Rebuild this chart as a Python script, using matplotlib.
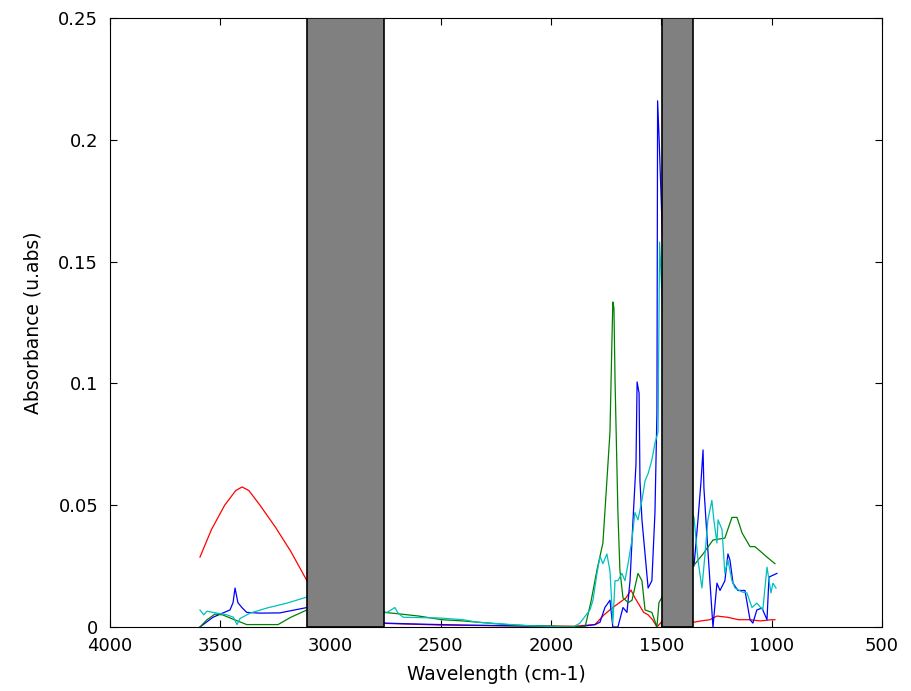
import matplotlib.pyplot as plt
from matplotlib.patches import Rectangle

plt.rcParams['font.family'] = ['DejaVu Sans']

# spectra (wavenumber, absorbance)
red_x = [3592, 3540, 3480, 3430, 3401, 3370, 3320, 3250, 3180, 3107, 3000, 2850, 2758,
         2500, 2200, 1900, 1801, 1760, 1720, 1690, 1660, 1638, 1620, 1600, 1580, 1560, 1540, 1520,
         1500, 1420, 1352, 1320, 1280, 1248, 1200, 1150, 1100, 1050, 1000, 985]
red_y = [0.0287, 0.040, 0.050, 0.0560, 0.0575, 0.0560, 0.0500, 0.0410, 0.0310, 0.0190, 0.010, 0.003, 0.0015,
         0.0008, 0.0005, 0.0003, 0.0010, 0.0050, 0.0080, 0.0100, 0.0120, 0.0152, 0.0120, 0.0090, 0.0060, 0.0050, 0.0030, 0.0,
         0.002, 0.002, 0.002, 0.0025, 0.003, 0.0045, 0.0040, 0.0030, 0.0030, 0.0025, 0.003, 0.003]

blue_x = [3592, 3533, 3456, 3442, 3433, 3420, 3402, 3380, 3320, 3230, 3107, 3000, 2850, 2758,
          2600, 2400, 2100, 1883, 1800, 1778, 1756, 1733, 1720, 1697, 1674, 1656, 1642, 1629, 1615,
          1610, 1601, 1597, 1588, 1574, 1560, 1543, 1529, 1520, 1517, 1510, 1480, 1420, 1380,
          1352, 1334, 1320, 1311, 1307, 1293, 1280, 1266, 1248, 1234, 1212, 1198, 1189, 1175, 1153,
          1121, 1098, 1085, 1067, 1044, 1021, 1012, 976]
blue_y = [0.0, 0.004, 0.007, 0.010, 0.016, 0.010, 0.008, 0.006, 0.0057, 0.0058, 0.008, 0.006, 0.003, 0.0016,
          0.0012, 0.0008, 0.0004, 0.0, 0.001, 0.002, 0.008, 0.011, 0.0, 0.0, 0.008, 0.006, 0.019, 0.043, 0.067,
          0.1006, 0.096, 0.060, 0.044, 0.030, 0.016, 0.019, 0.047, 0.088, 0.216, 0.20, 0.12, 0.06, 0.035,
          0.025, 0.044, 0.060, 0.0727, 0.057, 0.037, 0.019, 0.0, 0.018, 0.015, 0.019, 0.030, 0.0275, 0.018, 0.015,
          0.015, 0.003, 0.0016, 0.007, 0.0078, 0.003, 0.0205, 0.022]

green_x = [3592, 3560, 3524, 3490, 3450, 3380, 3300, 3238, 3180, 3107, 3000, 2850, 2758,
           2700, 2600, 2495, 2400, 2336, 2200, 2096, 1900, 1846, 1820, 1792, 1765, 1747, 1733, 1724,
           1720, 1715, 1710, 1697, 1688, 1674, 1650, 1633, 1606, 1588, 1574, 1543, 1520, 1511, 1480,
           1420, 1380, 1352, 1311, 1266, 1212, 1180, 1157, 1134, 1098, 1076, 1050, 1021, 985]
green_y = [0.0, 0.003, 0.0053, 0.0050, 0.0035, 0.001, 0.001, 0.001, 0.004, 0.007, 0.008, 0.007, 0.006,
           0.0055, 0.0045, 0.003, 0.0025, 0.002, 0.001, 0.0005, 0.0002, 0.0, 0.010, 0.0234, 0.0345, 0.060, 0.080, 0.118,
           0.1334, 0.131, 0.101, 0.047, 0.0234, 0.012, 0.010, 0.011, 0.022, 0.019, 0.007, 0.006, 0.0, 0.010, 0.015,
           0.020, 0.023, 0.0254, 0.030, 0.0357, 0.0365, 0.045, 0.045, 0.0386, 0.033, 0.033, 0.031, 0.0287, 0.026]

cyan_x = [3592, 3575, 3560, 3533, 3470, 3440, 3424, 3410, 3365, 3288, 3198, 3107, 3000, 2850,
          2744, 2708, 2694, 2670, 2504, 2400, 2336, 2263, 2096, 1900, 1869, 1824, 1810, 1792, 1778,
          1765, 1747, 1733, 1720, 1710, 1697, 1679, 1665, 1651, 1633, 1620, 1606, 1588, 1574, 1560,
          1543, 1529, 1515, 1508, 1480, 1420, 1380, 1352, 1334, 1316, 1302, 1289, 1271, 1262, 1248, 1243,
          1225, 1212, 1198, 1180, 1166, 1134, 1112, 1089, 1067, 1040, 1021, 1003, 994, 980]
cyan_y = [0.007, 0.005, 0.0065, 0.006, 0.005, 0.004, 0.001, 0.0035, 0.0057, 0.0078, 0.0098, 0.0123, 0.011, 0.008,
          0.006, 0.008, 0.0057, 0.004, 0.0037, 0.003, 0.002, 0.0015, 0.0005, 0.0, 0.0016, 0.007, 0.011, 0.022, 0.029,
          0.026, 0.030, 0.023, 0.0016, 0.019, 0.019, 0.022, 0.019, 0.026, 0.036, 0.047, 0.044, 0.052, 0.060, 0.063,
          0.0686, 0.0755, 0.080, 0.158, 0.10, 0.06, 0.05, 0.045, 0.0275, 0.016, 0.030, 0.044, 0.052, 0.044, 0.0345, 0.044,
          0.040, 0.022, 0.0275, 0.019, 0.016, 0.0144, 0.014, 0.008, 0.0098, 0.007, 0.0246, 0.014, 0.018, 0.016]

# masked regions
bands = [(3107, 2758), (1498, 1357)]

fig = plt.figure(figsize=(9.12, 6.91), dpi=100)
ax = fig.add_axes([0.1206, 0.0926, 0.8464, 0.8814])

ax.plot(red_x, red_y, color='red', lw=0.9)
ax.plot(blue_x, blue_y, color='blue', lw=0.9)
ax.plot(green_x, green_y, color=(0, 0.5, 0), lw=0.9)
ax.plot(cyan_x, cyan_y, color=(0, 0.75, 0.75), lw=0.9)

for b in bands:
    ax.add_patch(Rectangle((b[1], 0), b[0] - b[1], 0.25, facecolor=(0.5, 0.5, 0.5),
                           edgecolor='black', lw=1.2, zorder=3))

ax.set_xlim(4000, 500)
ax.set_ylim(0, 0.25)
ax.set_xticks([4000, 3500, 3000, 2500, 2000, 1500, 1000, 500])
ax.set_yticks([0, 0.05, 0.1, 0.15, 0.2, 0.25])
ax.set_yticklabels(['0', '0.05', '0.1', '0.15', '0.2', '0.25'])
ax.tick_params(direction='in', top=True, right=True, labelsize=13, length=5)
ax.tick_params(axis='x', pad=7.5)
ax.tick_params(axis='y', pad=8.5)
ax.set_xlabel('Wavelength (cm-1)', fontsize=13.5, labelpad=7)
ax.set_ylabel('Absorbance (u.abs)', fontsize=13.5, labelpad=11)
for s in ax.spines.values():
    s.set_linewidth(0.8)

fig.savefig('out.png', dpi=100)
